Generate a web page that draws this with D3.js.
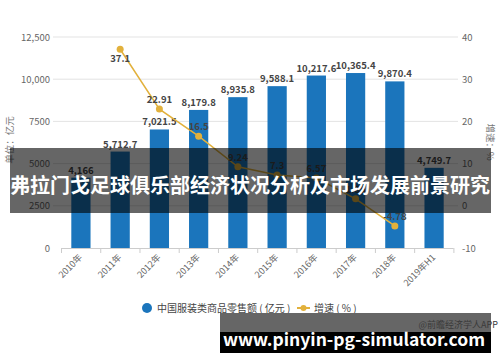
<!DOCTYPE html>
<html>
<head>
<meta charset="utf-8">
<script src="https://cdn.jsdelivr.net/npm/d3@7"></script>
<style>
  body { margin: 0; background: #fff; }
  svg text { font-family: "Noto Sans CJK SC", "Noto Sans", sans-serif; }
</style>
</head>
<body>
<svg id="chart" width="500" height="362"></svg>
<script>
// data
var years = ["2010年", "2011年", "2012年", "2013年", "2014年", "2015年", "2016年", "2017年", "2018年", "2019年H1"];
var sales = [4166, 5712.7, 7021.5, 8179.8, 8935.8, 9588.1, 10217.6, 10365.4, 9870.4, 4749.7];
var growth = [null, 37.1, 22.91, 16.5, 9.24, 7.3, 6.57, 1.65, -4.78, null];
var leftTicks = [0, 2500, 5000, 7500, 10000, 12500];
var leftTickText = ["0", "2500", "5000", "7500", "10,000", "12,500"];
var rightTicks = [-10, 0, 10, 20, 30, 40];

var svg = d3.select("#chart");
var plotTop = 37, plotBottom = 248;

var x = d3.scaleBand().domain(years).range([61.5, 453.5]).paddingInner(0.51).paddingOuter(0.25);
var step = x.step();
var yL = d3.scaleLinear().domain([0, 12500]).range([plotBottom, plotTop]);
var yR = d3.scaleLinear().domain([-10, 40]).range([plotBottom, plotTop]);

// gridlines
svg.append("g").selectAll("line").data(leftTicks.filter(function (d) { return d > 0; }))
  .enter().append("line")
  .attr("x1", 53).attr("x2", 458)
  .attr("y1", function (d) { return yL(d); }).attr("y2", function (d) { return yL(d); })
  .attr("stroke", "#e3e3e3").attr("stroke-width", 1);

// left axis labels
svg.append("g").selectAll("text").data(leftTicks).enter().append("text")
  .attr("x", 50).attr("y", function (d) { return yL(d) + 3.5; })
  .attr("text-anchor", "end").attr("font-size", 9.5).attr("fill", "#666")
  .text(function (d, i) { return leftTickText[i]; });

// right axis labels
svg.append("g").selectAll("text").data(rightTicks).enter().append("text")
  .attr("x", 462).attr("y", function (d) { return yR(d) + 3.5; })
  .attr("font-size", 9.5).attr("fill", "#666")
  .text(function (d) { return d; });

// axis titles
svg.append("text").attr("transform", "translate(13,140) rotate(-90)")
  .attr("text-anchor", "middle").attr("font-size", 9.5).attr("fill", "#777")
  .text("单位：亿元");
svg.append("text").attr("transform", "translate(487,142) rotate(90)")
  .attr("text-anchor", "middle").attr("font-size", 9.5).attr("fill", "#777")
  .text("增速：%");

// bars
svg.append("g").selectAll("rect").data(sales).enter().append("rect")
  .attr("x", function (d, i) { return x(years[i]); })
  .attr("width", x.bandwidth())
  .attr("y", function (d) { return yL(d); })
  .attr("height", function (d) { return plotBottom - yL(d); })
  .attr("fill", "#1b75bc");

// bar labels
svg.append("g").selectAll("text").data(sales).enter().append("text")
  .attr("x", function (d, i) { return x(years[i]) + x.bandwidth() / 2; })
  .attr("y", function (d) { return yL(d) - 4; })
  .attr("text-anchor", "middle").attr("font-size", 9.5).attr("font-weight", "bold").attr("fill", "#444")
  .text(function (d) { return d3.format(",")(d); });

// x axis
svg.append("line").attr("x1", 61.5).attr("x2", 453.5).attr("y1", plotBottom + 0.5).attr("y2", plotBottom + 0.5)
  .attr("stroke", "#ccc");
svg.append("g").selectAll("line").data(years.concat(["end"])).enter().append("line")
  .attr("x1", function (d, i) { return 61.5 + i * step; })
  .attr("x2", function (d, i) { return 61.5 + i * step; })
  .attr("y1", plotBottom).attr("y2", plotBottom + 5)
  .attr("stroke", "#ccc");
svg.append("g").selectAll("text").data(years).enter().append("text")
  .attr("transform", function (d) {
    return "translate(" + (x(d) + x.bandwidth() / 2 + 2) + "," + (plotBottom + 10) + ") rotate(-45)";
  })
  .attr("text-anchor", "end").attr("font-size", 9).attr("fill", "#666")
  .text(function (d) { return d; });

// growth line
var pts = growth.map(function (d, i) { return { year: years[i], v: d }; })
  .filter(function (d) { return d.v !== null; });
var line = d3.line()
  .x(function (d) { return x(d.year) + x.bandwidth() / 2; })
  .y(function (d) { return yR(d.v); });
svg.append("path").datum(pts).attr("d", line)
  .attr("fill", "none").attr("stroke", "#e2b13c").attr("stroke-width", 1.5);
svg.append("g").selectAll("circle").data(pts).enter().append("circle")
  .attr("cx", function (d) { return x(d.year) + x.bandwidth() / 2; })
  .attr("cy", function (d) { return yR(d.v); })
  .attr("r", 3.5).attr("fill", "#e2b13c");
svg.append("g").selectAll("text").data(pts).enter().append("text")
  .attr("x", function (d) { return x(d.year) + x.bandwidth() / 2; })
  .attr("y", function (d) {
    var py = yR(d.v);
    return py - plotTop < 15 ? py + 13 : py - 6;
  })
  .attr("text-anchor", "middle").attr("font-size", 9.5).attr("font-weight", "bold").attr("fill", "#444")
  .text(function (d) { return d.v; });

// legend
var lg = svg.append("g").attr("font-size", 10).attr("fill", "#444");
lg.append("circle").attr("cx", 147).attr("cy", 308).attr("r", 5).attr("fill", "#1b75bc");
lg.append("text").attr("x", 157).attr("y", 311.5).text("中国服装类商品零售额 ( 亿元 )");
lg.append("line").attr("x1", 297).attr("x2", 310).attr("y1", 308).attr("y2", 308)
  .attr("stroke", "#e2b13c").attr("stroke-width", 2);
lg.append("circle").attr("cx", 303.5).attr("cy", 308).attr("r", 3).attr("fill", "#e2b13c");
lg.append("text").attr("x", 314).attr("y", 311.5).text("增速 ( % )");

// title band overlay
svg.append("rect").attr("x", 10).attr("y", 148).attr("width", 481).attr("height", 65)
  .attr("fill", "rgba(0,0,0,0.6)");
svg.append("text").attr("x", 250).attr("y", 193).attr("text-anchor", "middle")
  .attr("font-size", 20).attr("font-weight", "bold").attr("fill", "#fff")
  .text("弗拉门戈足球俱乐部经济状况分析及市场发展前景研究");

// bottom site box
svg.append("rect").attr("x", 220).attr("y", 313).attr("width", 271).attr("height", 19).attr("fill", "#666");
svg.append("rect").attr("x", 220).attr("y", 332).attr("width", 271).attr("height", 21).attr("fill", "#000");
svg.append("text").attr("x", 498).attr("y", 328).attr("text-anchor", "end")
  .attr("font-size", 9).attr("fill", "#3a3a3a").text("@前瞻经济学人APP");
svg.append("text").attr("x", 354).attr("y", 346).attr("text-anchor", "middle")
  .attr("font-size", 17.5).attr("font-weight", "bold").attr("fill", "#fff")
  .text("www.pinyin-pg-simulator.com");
</script>
</body>
</html>
